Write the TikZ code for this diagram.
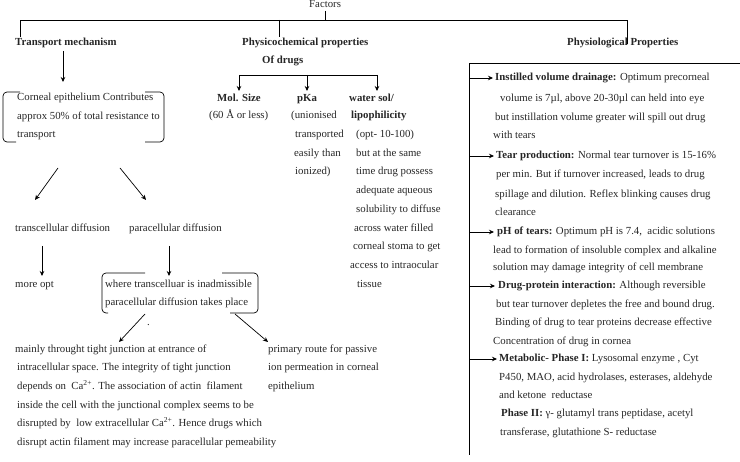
\documentclass[tikz,border=0pt]{standalone}
\usepackage{fontspec}
\setmainfont{Liberation Serif}
\usetikzlibrary{arrows.meta}
\begin{document}
\begin{tikzpicture}[x=1pt,y=-1pt,
  txt/.style={inner sep=0pt, text height=7pt, text depth=2pt, anchor=west, font=\fontsize{10.8}{13}\selectfont, text=black!85},
  bt/.style={txt, font=\fontsize{10.8}{13}\selectfont\bfseries},
  arr/.style={-{Stealth[length=5pt,width=4.5pt]}, line width=0.7pt},
  ln/.style={line width=0.7pt},
  brk/.style={line width=0.7pt, rounded corners=4pt}]
\useasboundingbox (0,0) rectangle (740,462);
% headings
\node[txt] (factors) at (309,5.5) {Factors};
\node[bt] (tm) at (15,43) {Transport mechanism};
\node[bt] (pc) at (242,43) {Physicochemical properties};
\node[bt] (od) at (262,61) {Of drugs};
\node[bt] (pp) at (567,43) {Physiological Properties};
% top tree
\coordinate (j0) at (325,11); \coordinate (j1) at (325,20);
\coordinate (tl) at (20,20); \coordinate (tmj) at (20,37);
\coordinate (tr) at (627,20); \coordinate (ppj) at (627,44);
\coordinate (pct) at (279,20); \coordinate (pcj) at (279,37);
\draw[ln] (j0) -- (j1);
\draw[ln] (tmj) -- (tl) -- (tr) -- (ppj);
\draw[ln] (pct) -- (pcj);
% transport branch
\coordinate (ta0) at (63,51); \coordinate (ta1) at (63,82);
\draw[arr] (ta0) -- (ta1);
\node[txt] (ce1) at (17,98) {Corneal epithelium Contributes};
\node[txt] (ce2) at (17,117) {approx 50\% of total resistance to};
\node[txt] (ce3) at (17,135) {transport};
\draw[brk] (20,92) -- (3,92) -- (3,142) -- (16,142);
\draw[brk] (145,92) -- (164,92) -- (164,142) -- (145,142);
\coordinate (a1s) at (58,168); \coordinate (a1e) at (35,200);
\coordinate (a2s) at (120,168); \coordinate (a2e) at (146,200);
\draw[arr] (a1s) -- (a1e);
\draw[arr] (a2s) -- (a2e);
\node[txt] (trd) at (15,229) {transcellular diffusion};
\node[txt] (prd) at (129,229) {paracellular diffusion};
\coordinate (d1s) at (42,246); \coordinate (d1e) at (42,276);
\coordinate (d2s) at (169,246); \coordinate (d2e) at (169,276);
\draw[arr] (d1s) -- (d1e);
\draw[arr] (d2s) -- (d2e);
\node[txt] (mo) at (15,285) {more opt};
\node[txt] (w1) at (105,285) {where transcelluar is inadmissible};
\node[txt] (w2) at (105,303) {paracellular diffusion takes place};
\draw[brk] (145,273) -- (102,273) -- (102,313) -- (108,313);
\draw[brk] (222,273) -- (258,273) -- (258,313) -- (230,313);
\node[txt] (dot) at (147,323) {.};
\coordinate (b1s) at (145,314); \coordinate (b1e) at (119,342);
\coordinate (b2s) at (235,314); \coordinate (b2e) at (268,342);
\draw[arr] (b1s) -- (b1e);
\draw[arr] (b2s) -- (b2e);
\node[txt] (m1) at (15,350) {mainly throught tight junction at entrance of};
\node[txt] (m2) at (17,368) {intracellular space. The integrity of tight junction};
\node[txt] (m3) at (17,387) {depends on \ Ca\textsuperscript{2+}. The association of actin \ filament};
\node[txt] (m4) at (17,406) {inside the cell with the junctional complex seems to be};
\node[txt] (m5) at (17,424) {disrupted by \ low extracellular Ca\textsuperscript{2+}. Hence drugs which};
\node[txt] (m6) at (17,443) {disrupt actin filament may increase paracellular pemeability};
\node[txt] (p1) at (268,350) {primary route for passive};
\node[txt] (p2) at (268,368) {ion permeation in corneal};
\node[txt] (p3) at (268,387) {epithelium};
% physicochemical branch
\coordinate (o1) at (239,75); \coordinate (o2) at (307,75); \coordinate (o3) at (377,75);
\coordinate (o1e) at (239,91); \coordinate (o2e) at (307,91); \coordinate (o3e) at (377,91);
\draw[ln] (o1) -- (o3);
\draw[arr] (o1) -- (o1e);
\draw[arr] (o2) -- (o2e);
\draw[arr] (o3) -- (o3e);
\node[bt] (ms) at (217,99) {Mol. Size};
\node[txt] (ms1) at (209,116) {(60 Å or less)};
\node[bt] (pk) at (297,99) {pKa};
\node[txt] (pk1) at (291,116) {(unionised};
\node[txt] (pk2) at (295,135) {transported};
\node[txt] (pk3) at (294,154) {easily than};
\node[txt] (pk4) at (295,172) {ionized)};
\node[bt] (ws) at (349,99) {water sol/};
\node[bt] (ws1) at (351,116) {lipophilicity};
\node[txt] (ws2) at (356,135) {(opt- 10-100)};
\node[txt] (ws3) at (356,154) {but at the same};
\node[txt] (ws4) at (356,172) {time drug possess};
\node[txt] (ws5) at (356,191) {adequate aqueous};
\node[txt] (ws6) at (356,210) {solubility to diffuse};
\node[txt] (ws7) at (354,229) {across water filled};
\node[txt] (ws8) at (353,247) {corneal stoma to get};
\node[txt] (ws9) at (350,266) {access to intraocular};
\node[txt] (ws10) at (357,285) {tissue};
% physiological branch
\coordinate (rb0) at (740,63); \coordinate (rb1) at (469,63); \coordinate (rb2) at (469,455);
\draw[ln] (rb0) -- (rb1) -- (rb2);
\coordinate (r1) at (469,78); \coordinate (r1e) at (493,78);
\coordinate (r2) at (469,156); \coordinate (r2e) at (494,156);
\coordinate (r3) at (469,232); \coordinate (r3e) at (494,232);
\coordinate (r4) at (469,286); \coordinate (r4e) at (495,286);
\coordinate (r5) at (469,359); \coordinate (r5e) at (497,359);
\draw[arr] (r1) -- (r1e);
\draw[arr] (r2) -- (r2e);
\draw[arr] (r3) -- (r3e);
\draw[arr] (r4) -- (r4e);
\draw[arr] (r5) -- (r5e);
\node[txt] (i1) at (495,78) {\textbf{Instilled volume drainage:} Optimum precorneal};
\node[txt] (i2) at (500,99) {volume is 7µl, above 20-30µl can held into eye};
\node[txt] (i3) at (495,118) {but instillation volume greater will spill out drug};
\node[txt] (i4) at (493,136) {with tears};
\node[txt] (t1) at (496,156) {\textbf{Tear production:} Normal tear turnover is 15-16\%};
\node[txt] (t2) at (496,175) {per min. But if turnover increased, leads to drug};
\node[txt] (t3) at (495,195) {spillage and dilution. Reflex blinking causes drug};
\node[txt] (t4) at (495,213) {clearance};
\node[txt] (h1) at (497,232) {\textbf{pH of tears:} Optimum pH is 7.4, \ acidic solutions};
\node[txt] (h2) at (493,251) {lead to formation of insoluble complex and alkaline};
\node[txt] (h3) at (493,268) {solution may damage integrity of cell membrane};
\node[txt] (d1) at (498,286) {\textbf{Drug-protein interaction:} Although reversible};
\node[txt] (d2) at (496,305) {but tear turnover depletes the free and bound drug.};
\node[txt] (d3) at (495,323) {Binding of drug to tear proteins decrease effective};
\node[txt] (d4) at (493,342) {Concentration of drug in cornea};
\node[txt] (e1) at (499,359) {\textbf{Metabolic- Phase I:} Lysosomal enzyme , Cyt};
\node[txt] (e2) at (499,378) {P450, MAO, acid hydrolases, esterases, aldehyde};
\node[txt] (e3) at (499,396) {and ketone \ reductase};
\node[txt] (e4) at (501,414) {\textbf{Phase II:} γ- glutamyl trans peptidase, acetyl};
\node[txt] (e5) at (500,433) {transferase, glutathione S- reductase};
\end{tikzpicture}
\end{document}
